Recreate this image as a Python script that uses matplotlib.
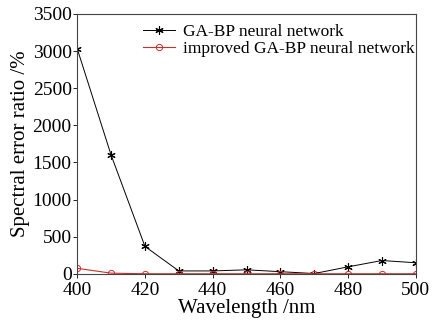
import numpy as np
import matplotlib.pyplot as plt

wavelength = [400, 410, 420, 430, 440, 450, 460, 470, 480, 490, 500]
ga_bp = [3030, 1600, 370, 40, 40, 55, 30, 5, 95, 180, 150]
improved = [75, 10, 2, 2, 2, 2, 2, 2, 2, 2, 2]

xticks = [400, 420, 440, 460, 480, 500]
yticks = [0, 500, 1000, 1500, 2000, 2500, 3000, 3500]


def main():
    plt.rcParams['font.family'] = ['Liberation Serif', 'DejaVu Serif']
    fig, ax = plt.subplots(figsize=(4.34, 3.23), dpi=100)
    fig.subplots_adjust(left=0.178, right=0.958, top=0.957, bottom=0.152)

    ax.plot(wavelength, ga_bp, color="black", linewidth=0.7, marker=(6, 2, 0),
            markersize=6, markeredgewidth=0.8, label="GA-BP neural network")
    ax.plot(wavelength, improved, color="#c8302c", linewidth=0.8, marker="o",
            markersize=4.5, markerfacecolor="none", markeredgewidth=0.7,
            label="improved GA-BP neural network")

    ax.set_xlim(400, 500)
    ax.set_ylim(0, 3500)
    ax.set_xticks(xticks)
    ax.set_yticks(yticks)
    ax.tick_params(labelsize=14, direction="out", length=3, width=0.6, pad=1)
    ax.tick_params(axis="x", pad=3)
    for s in ax.spines.values():
        s.set_linewidth(0.8)
        s.set_color("#444444")

    ax.set_xlabel("Wavelength /nm", fontsize=15, labelpad=0)
    ax.set_ylabel("Spectral error ratio /%", fontsize=15, labelpad=2)

    ax.legend(loc="upper left", bbox_to_anchor=(0.163, 1.0), frameon=False,
              fontsize=12.5, handlelength=1.85, borderaxespad=0.2,
              labelspacing=0.0, handletextpad=0.45)

    fig.savefig("out.png", dpi=100)


if __name__ == "__main__":
    main()
